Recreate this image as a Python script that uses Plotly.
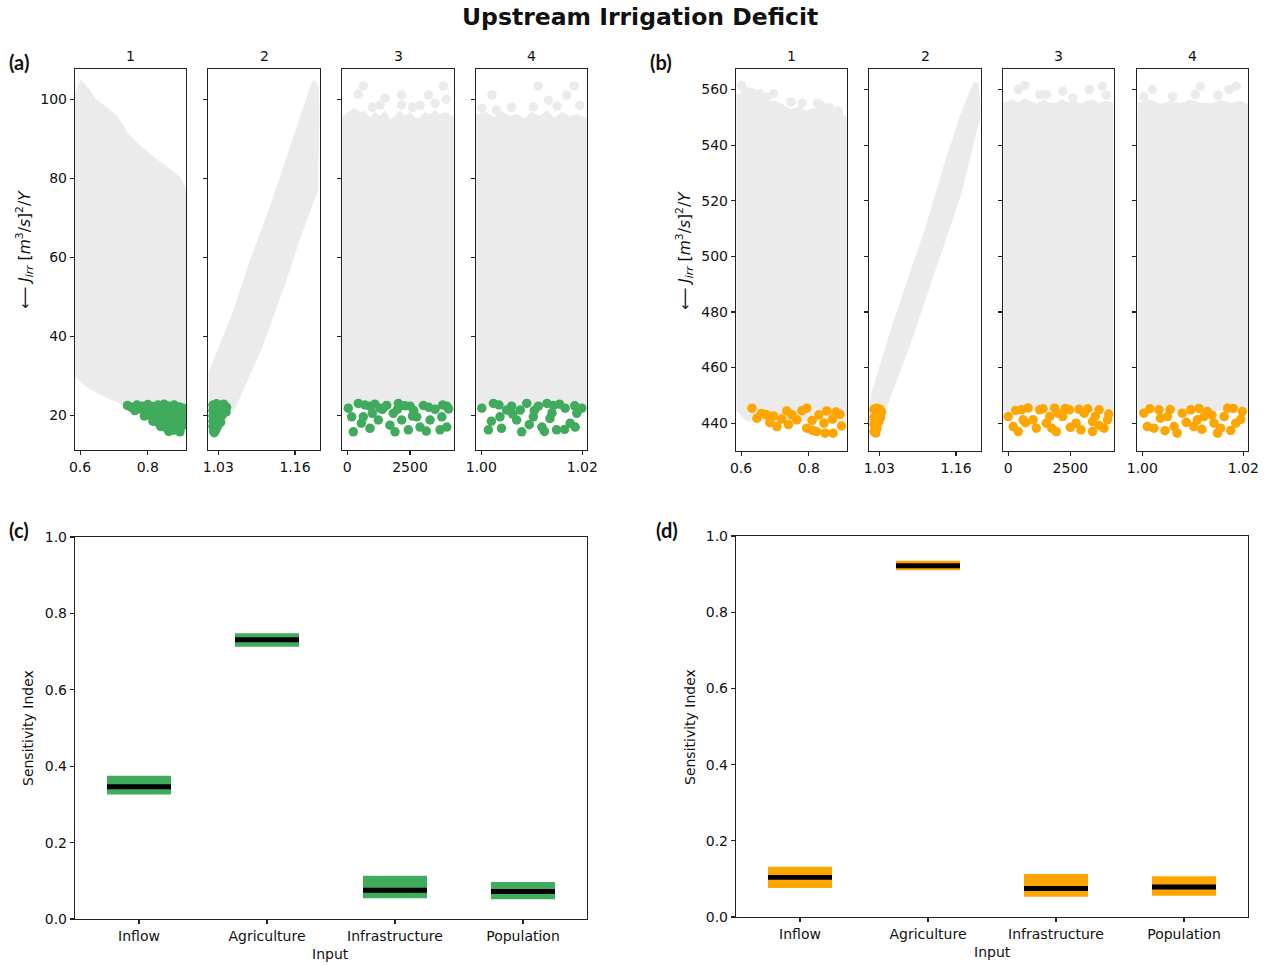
import plotly.graph_objects as go

W, H = 1264, 966
GREY = "#ebebeb"
GREEN = "#41ab5d"
ORANGE = "#ffa500"
FONT = "DejaVu Sans"

# ---------------- data ----------------
inputs = ["Inflow", "Agriculture", "Infrastructure", "Population"]

# (c) sensitivity indices (green)
c_low = [0.326, 0.713, 0.054, 0.052]
c_high = [0.375, 0.748, 0.113, 0.097]
c_med = [0.346, 0.731, 0.075, 0.072]
# (d) sensitivity indices (orange)
d_low = [0.076, 0.910, 0.053, 0.056]
d_high = [0.132, 0.935, 0.113, 0.107]
d_med = [0.104, 0.922, 0.075, 0.079]

# axis settings
x_ranges = [[0.585, 0.913], [1.0125, 1.2024], [-211, 4255], [0.99895, 1.02093]]
x_tickvals = [[0.6, 0.8], [1.03, 1.16], [0, 2500], [1.00, 1.02]]
x_ticktext = [["0.6", "0.8"], ["1.03", "1.16"], ["0", "2500"], ["1.00", "1.02"]]
ya_range = [11.2, 107.7]
ya_ticks = [20, 40, 60, 80, 100]
yb_range = [430.0, 567.4]
yb_ticks = [440, 460, 480, 500, 520, 540, 560]

# ---- (a) grey cloud outlines ----
a1_cloud_x = [0.588, 0.588, 0.603, 0.625, 0.645, 0.679, 0.708, 0.738, 0.777, 0.826, 0.866, 0.895, 0.910, 0.910, 0.780, 0.726, 0.689, 0.630, 0.600]
a1_cloud_y = [29.5, 101.5, 104.7, 102.4, 99.8, 97.7, 95.6, 91.4, 88.0, 84.6, 82.1, 80.0, 77.5, 21.0, 21.0, 23.0, 24.3, 26.8, 28.8]
a2_cloud_x = [1.0150, 1.0155, 1.0554, 1.0837, 1.1230, 1.1570, 1.1855, 1.1920, 1.1990, 1.1995, 1.1970, 1.1680, 1.1400, 1.1007, 1.0554, 1.0420, 1.0150]
a2_cloud_y = [21.5, 31.0, 45.8, 58.5, 74.5, 89.7, 102.3, 104.7, 103.0, 95.0, 77.0, 65.2, 52.6, 36.5, 21.3, 21.5, 21.5]
a3_cloud_x = [-160, -160, 150, 300, 500, 700, 900, 1100, 1300, 1500, 1700, 1900, 2100, 2300, 2500, 2700, 2900, 3100, 3300, 3500, 3700, 3900, 4206, 4206]
a3_cloud_y = [22.5, 95.5, 97.0, 97.5, 96.5, 96.8, 95.0, 96.5, 95.5, 96.8, 94.5, 95.5, 96.8, 95.5, 96.5, 95.0, 95.0, 96.5, 96.0, 97.0, 96.0, 96.5, 95.5, 22.5]
a4_cloud_x = [0.99915, 0.99915, 1.0010, 1.0025, 1.0040, 1.0055, 1.0070, 1.0085, 1.0100, 1.0115, 1.0130, 1.0145, 1.0160, 1.0175, 1.0190, 1.0207, 1.0207]
a4_cloud_y = [22.5, 96.0, 96.5, 95.0, 96.8, 95.5, 96.0, 94.8, 96.5, 95.5, 97.0, 95.0, 96.5, 95.5, 96.0, 95.0, 22.5]
# isolated grey samples above the dense clouds
a3_top_x = [440, 638, 1305, 1504, 2170, 2170, 2600, 3232, 3500, 3830, 3950, 1000, 2900]
a3_top_y = [101.3, 103.4, 98.6, 100.3, 101.1, 98.6, 98.0, 101.1, 99.0, 103.4, 100.0, 98.0, 98.5]
a4_top_x = [1.0001, 1.0021, 1.0030, 1.0113, 1.0103, 1.0133, 1.0169, 1.0184, 1.0195, 1.0060, 1.0150]
a4_top_y = [97.7, 101.1, 97.3, 103.4, 98.1, 99.8, 101.1, 103.4, 98.5, 98.0, 98.3]

# ---- (a) green (best) samples ----
a1_green_x = [0.740, 0.752, 0.768, 0.785, 0.800, 0.815, 0.830, 0.848, 0.862, 0.878, 0.893, 0.905,
              0.762, 0.779, 0.797, 0.812, 0.828, 0.845, 0.860, 0.876, 0.890, 0.904,
              0.790, 0.806, 0.822, 0.838, 0.853, 0.868, 0.884, 0.899,
              0.815, 0.830, 0.846, 0.862, 0.878, 0.893, 0.905,
              0.838, 0.853, 0.869, 0.885, 0.900,
              0.862, 0.876, 0.895]
a1_green_y = [22.5, 22.0, 22.6, 22.3, 22.7, 22.2, 22.6, 22.8, 22.3, 22.6, 22.1, 21.8,
              21.2, 21.6, 20.9, 21.4, 21.0, 21.5, 20.8, 21.3, 20.9, 21.2,
              19.8, 20.1, 19.6, 20.0, 19.5, 19.9, 19.4, 19.8,
              18.5, 18.2, 18.7, 18.1, 18.4, 18.0, 18.3,
              17.2, 16.9, 17.3, 16.8, 17.1,
              15.9, 16.2, 15.8]
a2_green_x = [1.021, 1.027, 1.033, 1.039, 1.044, 1.021, 1.026, 1.032, 1.038, 1.043,
              1.021, 1.026, 1.031, 1.036, 1.021, 1.025, 1.030, 1.034,
              1.021, 1.025, 1.029, 1.022, 1.026, 1.023]
a2_green_y = [22.6, 22.9, 22.5, 22.8, 22.0, 21.2, 21.4, 21.0, 21.3, 20.8,
              19.8, 20.0, 19.6, 19.9, 18.5, 18.3, 18.6, 18.2,
              17.2, 17.0, 17.3, 16.0, 16.3, 15.6]
a3_green_x = [40, 175, 240, 440, 638, 905, 905, 1237, 1305, 1570, 1835, 1903, 2036, 2170, 2434, 2502,
              2769, 2900, 3033, 3300, 3500, 3700, 3767, 3966, 3966,
              700, 1100, 1400, 2300, 2650, 3250, 3800, 4040, 2000, 1000, 560, 1700, 3150, 2600]
a3_green_y = [21.8, 19.6, 15.8, 23.0, 19.6, 22.3, 16.7, 18.8, 21.8, 22.5, 20.5, 15.8, 23.0, 18.8, 16.3, 22.3,
              19.6, 17.0, 22.5, 18.8, 21.5, 16.3, 19.6, 22.3, 17.0,
              22.6, 22.8, 21.5, 22.4, 21.2, 22.0, 22.6, 21.6, 21.5, 20.5, 18.0, 17.5, 16.0, 19.8]
a4_green_x = [1.0001, 1.0024, 1.0014, 1.0037, 1.0040, 1.0060, 1.0070, 1.0080, 1.0090, 1.0103, 1.0113, 1.0120,
              1.0136, 1.0143, 1.0149, 1.0166, 1.0176, 1.0186, 1.0199, 1.0189, 1.0050, 1.0130, 1.0077,
              1.0035, 1.0105, 1.0155, 1.0185, 1.0062, 1.0140, 1.0020, 1.0095, 1.0125, 1.0165]
a4_green_y = [21.8, 23.0, 16.3, 19.6, 16.7, 22.3, 18.8, 15.8, 23.0, 19.6, 22.3, 17.0,
              19.2, 22.5, 16.3, 21.8, 18.0, 17.0, 21.8, 20.5, 21.3, 23.0, 21.3,
              22.6, 21.2, 22.8, 22.4, 20.3, 20.6, 18.5, 17.6, 15.9, 16.4]

# ---- (b) grey cloud outlines ----
b1_cloud_x = [0.589, 0.589, 0.620, 0.650, 0.680, 0.700, 0.720, 0.745, 0.770, 0.794, 0.815, 0.838, 0.865, 0.892, 0.910, 0.910, 0.620, 0.600]
b1_cloud_y = [444.0, 558.0, 558.5, 557.5, 556.0, 555.5, 554.5, 552.6, 553.5, 552.0, 553.0, 552.5, 551.8, 551.2, 550.0, 441.0, 441.0, 443.0]
b2_cloud_x = [1.0140, 1.0182, 1.0527, 1.0815, 1.1104, 1.1390, 1.1680, 1.1910, 1.1970, 1.1997, 1.1997, 1.1680, 1.1390, 1.1104, 1.0815, 1.0413, 1.0300, 1.0140]
b2_cloud_y = [443.0, 450.8, 474.8, 492.8, 510.8, 531.2, 550.4, 562.4, 562.0, 556.0, 550.4, 522.8, 504.8, 486.8, 468.8, 446.0, 443.0, 443.0]
b3_cloud_x = [-152, -152, 150, 400, 650, 900, 1150, 1400, 1650, 1900, 2150, 2400, 2650, 2900, 3150, 3400, 3650, 3900, 4178, 4178]
b3_cloud_y = [444.5, 555.0, 556.0, 555.0, 556.5, 555.5, 554.5, 556.0, 555.0, 554.8, 556.2, 555.0, 555.8, 554.6, 555.5, 556.0, 554.8, 555.6, 555.0, 444.5]
b4_cloud_x = [0.99927, 0.99927, 1.0015, 1.0035, 1.0055, 1.0075, 1.0095, 1.0115, 1.0135, 1.0155, 1.0175, 1.0195, 1.02085, 1.02085]
b4_cloud_y = [444.5, 555.0, 556.0, 554.5, 555.5, 554.8, 556.0, 555.0, 554.6, 555.8, 554.8, 555.5, 554.5, 444.5]
b1_top_x = [0.601, 0.612, 0.632, 0.655, 0.675, 0.696, 0.748, 0.780, 0.826, 0.838, 0.860, 0.887]
b1_top_y = [561.5, 559.5, 558.8, 558.5, 557.0, 558.5, 555.5, 555.0, 555.0, 554.0, 553.5, 552.2]
b3_top_x = [400, 666, 1266, 1530, 2195, 2594, 3260, 3790, 3950]
b3_top_y = [560.0, 561.5, 558.2, 558.2, 559.4, 557.0, 560.0, 561.2, 558.0]
b4_top_x = [1.0003, 1.0020, 1.0105, 1.0115, 1.0172, 1.0186, 1.0060, 1.0150]
b4_top_y = [557.4, 560.0, 558.2, 561.2, 560.0, 561.2, 557.5, 557.8]

# ---- (b) orange (best) samples ----
b1_orange_x = [0.632, 0.647, 0.660, 0.675, 0.696, 0.706, 0.720, 0.735, 0.750, 0.765, 0.780, 0.794, 0.794,
               0.810, 0.823, 0.830, 0.845, 0.853, 0.848, 0.872, 0.870, 0.892, 0.897, 0.880, 0.740, 0.685, 0.810]
b1_orange_y = [445.4, 441.8, 443.5, 443.0, 442.6, 438.8, 441.5, 444.4, 443.0, 441.2, 444.5, 445.4, 438.2,
               441.0, 437.0, 443.0, 440.0, 444.4, 436.4, 436.4, 441.5, 443.2, 439.0, 444.0, 439.5, 440.2, 437.5]
b2_orange_x = [1.021, 1.026, 1.031, 1.034, 1.021, 1.027, 1.032, 1.021, 1.025, 1.029, 1.021, 1.024, 1.026]
b2_orange_y = [445.0, 445.4, 445.0, 444.0, 442.0, 442.5, 442.0, 439.5, 440.0, 440.5, 437.0, 436.5, 438.0]
b3_orange_x = [0, 200, 400, 533, 800, 1000, 1265, 1532, 1862, 1930, 2195, 2460, 2727, 3058, 3390, 3657, 3857, 3990,
               598, 1665, 2926, 3390, 1130, 300, 1400, 2000, 2300, 2850, 3200, 3500, 4040, 700, 2500, 1750, 3650]
b3_orange_y = [442.4, 438.8, 437.0, 444.8, 445.5, 441.2, 444.8, 440.0, 445.4, 437.0, 442.4, 444.8, 440.0, 443.6, 440.6, 444.8, 438.2, 441.2,
               441.2, 442.4, 437.6, 437.0, 438.2, 444.6, 445.2, 443.6, 445.3, 445.0, 445.2, 442.5, 443.3, 440.2, 438.5, 438.2, 439.2]
b4_orange_x = [1.0003, 1.0010, 1.0033, 1.0023, 1.0036, 1.0063, 1.0079, 1.0069, 1.0096, 1.0102, 1.0122, 1.0129, 1.0149,
               1.0162, 1.0169, 1.0185, 1.0198, 1.0050, 1.0109, 1.0142,
               1.0015, 1.0055, 1.0087, 1.0112, 1.0138, 1.0155, 1.0180, 1.0195, 1.0045, 1.0118, 1.0175]
b4_orange_y = [443.6, 438.8, 444.8, 438.2, 441.8, 438.8, 443.6, 436.4, 444.8, 438.8, 442.4, 444.2, 436.4,
               442.4, 445.4, 440.0, 444.2, 442.4, 441.2, 440.0,
               445.2, 444.9, 440.3, 445.3, 442.9, 438.2, 445.3, 441.4, 437.3, 437.8, 437.4]

# ---------------- figure ----------------
def fx(p):
    return p / W


def fy(p):
    return 1 - p / H


fig = go.Figure()

a_clouds = [(a1_cloud_x, a1_cloud_y), (a2_cloud_x, a2_cloud_y), (a3_cloud_x, a3_cloud_y), (a4_cloud_x, a4_cloud_y)]
b_clouds = [(b1_cloud_x, b1_cloud_y), (b2_cloud_x, b2_cloud_y), (b3_cloud_x, b3_cloud_y), (b4_cloud_x, b4_cloud_y)]
a_tops = [None, None, (a3_top_x, a3_top_y), (a4_top_x, a4_top_y)]
b_tops = [(b1_top_x, b1_top_y), None, (b3_top_x, b3_top_y), (b4_top_x, b4_top_y)]
a_best = [(a1_green_x, a1_green_y), (a2_green_x, a2_green_y), (a3_green_x, a3_green_y), (a4_green_x, a4_green_y)]
b_best = [(b1_orange_x, b1_orange_y), (b2_orange_x, b2_orange_y), (b3_orange_x, b3_orange_y), (b4_orange_x, b4_orange_y)]

MS = 9.5
for group, clouds, tops, best, col in [(0, a_clouds, a_tops, a_best, GREEN), (1, b_clouds, b_tops, b_best, ORANGE)]:
    for i in range(4):
        n = group * 4 + i + 1
        xa, ya = f"x{n}", f"y{n}"
        cx, cy = clouds[i]
        fig.add_trace(go.Scatter(x=cx, y=cy, mode="lines", fill="toself", fillcolor=GREY,
                                 line=dict(color=GREY, width=2), xaxis=xa, yaxis=ya,
                                 hoverinfo="skip", showlegend=False))
        if tops[i] is not None:
            tx, ty = tops[i]
            fig.add_trace(go.Scatter(x=tx, y=ty, mode="markers", marker=dict(size=MS, color=GREY),
                                     xaxis=xa, yaxis=ya, showlegend=False))
        bx, by = best[i]
        fig.add_trace(go.Scatter(x=bx, y=by, mode="markers", marker=dict(size=MS, color=col),
                                 xaxis=xa, yaxis=ya, showlegend=False))

MED_T = 0.013
pos = list(range(len(inputs)))
for n, lo, hi, med, col in [(9, c_low, c_high, c_med, GREEN), (10, d_low, d_high, d_med, ORANGE)]:
    fig.add_trace(go.Bar(x=pos, y=[h - l for h, l in zip(hi, lo)], base=lo, width=0.5,
                         marker=dict(color=col, line=dict(width=0)),
                         xaxis=f"x{n}", yaxis=f"y{n}", showlegend=False))
    fig.add_trace(go.Bar(x=pos, y=[MED_T] * len(med), base=[m - MED_T / 2 for m in med], width=0.5,
                         marker=dict(color="black", line=dict(width=0)),
                         xaxis=f"x{n}", yaxis=f"y{n}", showlegend=False))

tickfont = dict(family=FONT, size=14, color="#111")


def axis(domain, rng, anchor, tickvals, ticktext=None, labels=True, fmt=None):
    d = dict(domain=domain, range=rng, anchor=anchor, showline=True, mirror=True,
             linecolor="#222", linewidth=1.2, ticks="outside", ticklen=4, tickwidth=1.1,
             tickcolor="#222", showgrid=False, zeroline=False, tickvals=tickvals,
             showticklabels=labels, tickfont=tickfont, fixedrange=True, automargin=False)
    if ticktext is not None:
        d["ticktext"] = ticktext
    if fmt:
        d["tickformat"] = fmt
    return d


a_x_px = [(75, 186), (208, 320), (342, 454), (476, 587)]
b_x_px = [(736, 847), (869, 981), (1003, 1114), (1137, 1248)]
layout = {}
for i in range(4):
    n = i + 1
    layout[f"xaxis{n}"] = axis([fx(a_x_px[i][0]), fx(a_x_px[i][1])], x_ranges[i], f"y{n}",
                               x_tickvals[i], x_ticktext[i])
    layout[f"yaxis{n}"] = axis([fy(450), fy(69)], ya_range, f"x{n}", ya_ticks, labels=(i == 0))
    m = i + 5
    layout[f"xaxis{m}"] = axis([fx(b_x_px[i][0]), fx(b_x_px[i][1])], x_ranges[i], f"y{m}",
                               x_tickvals[i], x_ticktext[i])
    layout[f"yaxis{m}"] = axis([fy(451), fy(69)], yb_range, f"x{m}", yb_ticks, labels=(i == 0))

layout["xaxis9"] = axis([fx(75), fx(587)], [-0.5, 3.5], "y9", pos, inputs)
layout["yaxis9"] = axis([fy(919), fy(537)], [0, 1], "x9", [0, 0.2, 0.4, 0.6, 0.8, 1.0], fmt=".1f")
layout["xaxis10"] = axis([fx(736), fx(1248)], [-0.5, 3.5], "y10", pos, inputs)
layout["yaxis10"] = axis([fy(917), fy(536)], [0, 1], "x10", [0, 0.2, 0.4, 0.6, 0.8, 1.0], fmt=".1f")

ann = []


def add_text(text, x, y, size=14, angle=0, family=FONT, xanchor="center", yanchor="middle"):
    ann.append(dict(text=text, x=fx(x), y=fy(y), xref="paper", yref="paper", showarrow=False,
                    textangle=angle, xanchor=xanchor, yanchor=yanchor,
                    font=dict(family=family, size=size, color="#111")))


add_text("<b>Upstream Irrigation Deficit</b>", 640, 17, size=23.5)
for lab, x, y in [("(a)", 19, 62), ("(b)", 661, 62), ("(c)", 19, 530), ("(d)", 667, 530)]:
    add_text(f"<b>{lab}</b>", x, y, size=20, family="Lato")
for i in range(4):
    add_text(str(i + 1), sum(a_x_px[i]) / 2, 56)
    add_text(str(i + 1), sum(b_x_px[i]) / 2, 56)

ylab = "⟵ <i>J<sub>irr</sub></i> [<i>m</i><sup>3</sup>/<i>s</i>]<sup>2</sup>/<i>Y</i>"
add_text(ylab, 24, 250, size=15.5, angle=-90)
add_text(ylab, 685, 251, size=15.5, angle=-90)
add_text("Sensitivity Index", 28, 728, angle=-90)
add_text("Sensitivity Index", 690, 727, angle=-90)
add_text("Input", 330, 954)
add_text("Input", 992, 952)

fig.update_layout(width=W, height=H, autosize=False, margin=dict(l=0, r=0, t=0, b=0, autoexpand=False),
                  paper_bgcolor="white", plot_bgcolor="white", barmode="overlay",
                  showlegend=False, annotations=ann, hovermode=False, **layout)

fig.write_html("out.html", config={"displayModeBar": False, "staticPlot": True},
               post_script="document.body.style.margin='0';document.body.style.padding='0';"
                           "document.body.style.overflow='hidden';")
